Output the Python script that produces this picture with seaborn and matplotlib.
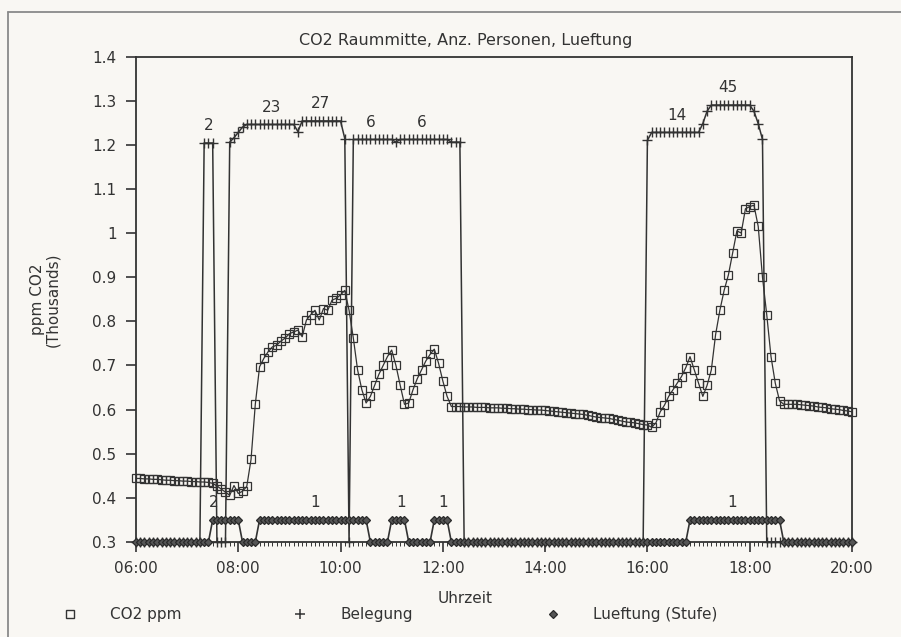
import numpy as np
import pandas as pd
import matplotlib
matplotlib.use("Agg")
import matplotlib.pyplot as plt
from matplotlib.lines import Line2D
from matplotlib.ticker import MultipleLocator, FuncFormatter
import seaborn as sns

# Messwerte alle 5 Minuten, 06:00 bis 20:00
zeit = pd.date_range("2000-01-01 06:00", "2000-01-01 20:00", freq="5min")
zeit_h = zeit.hour + zeit.minute / 60.0

# CO2 Raummitte in Tausend ppm (eine Zeile je Stunde)
co2_ppm = [
    .444, .444, .443, .443, .442, .442, .441, .440, .440, .439, .439, .438,  # 06
    .438, .437, .437, .436, .436, .435, .433, .427, .420, .413, .406, .428,  # 07
    .410, .415, .426, .487, .612, .697, .716, .731, .742, .746, .755, .762,  # 08
    .772, .776, .780, .765, .803, .815, .825, .803, .829, .825, .848, .852,  # 09
    .860, .870, .825, .762, .690, .645, .615, .630, .655, .680, .700, .720,  # 10
    .735, .700, .655, .612, .615, .645, .670, .690, .710, .725, .737, .705,  # 11
    .665, .630, .607, .607, .607, .606, .606, .606, .605, .605, .605, .604,  # 12
    .604, .604, .603, .603, .602, .602, .601, .601, .600, .600, .599, .599,  # 13
    .598, .597, .596, .595, .594, .593, .592, .591, .590, .589, .587, .585,  # 14
    .583, .582, .581, .580, .578, .576, .574, .572, .571, .570, .568, .566,  # 15
    .565, .560, .570, .595, .610, .630, .645, .660, .675, .695, .720, .690,  # 16
    .660, .630, .655, .690, .770, .825, .870, .905, .955, 1.005, 1.000, 1.055,  # 17
    1.060, 1.063, 1.015, .900, .815, .720, .660, .620, .612, .612, .612, .612,  # 18
    .611, .610, .609, .608, .606, .605, .604, .602, .601, .600, .598, .597,  # 19
    .595,  # 20
]

# Belegung: Anzahl Personen
personen = [
    0, 0, 0, 0, 0, 0, 0, 0, 0, 0, 0, 0,
    0, 0, 0, 0, 2, 2, 2, 0, 0, 0, 3, 8,
    14, 20, 23, 23, 23, 23, 23, 23, 23, 23, 23, 23,
    23, 23, 15, 27, 27, 27, 27, 27, 27, 27, 27, 27,
    27, 7, 0, 6, 6, 6, 6, 6, 6, 6, 6, 6,
    6, 3, 6, 6, 6, 6, 6, 6, 6, 6, 6, 6,
    6, 6, 3, 3, 3, 0, 0, 0, 0, 0, 0, 0,
    0, 0, 0, 0, 0, 0, 0, 0, 0, 0, 0, 0,
    0, 0, 0, 0, 0, 0, 0, 0, 0, 0, 0, 0,
    0, 0, 0, 0, 0, 0, 0, 0, 0, 0, 0, 0,
    5, 14, 14, 14, 14, 14, 14, 14, 14, 14, 14, 14,
    14, 24, 38, 45, 45, 45, 45, 45, 45, 45, 45, 45,
    45, 38, 24, 6, 0, 0, 0, 0, 0, 0, 0, 0,
    0, 0, 0, 0, 0, 0, 0, 0, 0, 0, 0, 0,
    0,
]

# Lueftung (Stufe)
stufe = [
    0, 0, 0, 0, 0, 0, 0, 0, 0, 0, 0, 0,
    0, 0, 0, 0, 0, 0, 2, 2, 2, 2, 2, 2,
    2, 0, 0, 0, 0, 1, 1, 1, 1, 1, 1, 1,
    1, 1, 1, 1, 1, 1, 1, 1, 1, 1, 1, 1,
    1, 1, 1, 1, 1, 1, 1, 0, 0, 0, 0, 0,
    1, 1, 1, 1, 0, 0, 0, 0, 0, 0, 1, 1,
    1, 1, 0, 0, 0, 0, 0, 0, 0, 0, 0, 0,
    0, 0, 0, 0, 0, 0, 0, 0, 0, 0, 0, 0,
    0, 0, 0, 0, 0, 0, 0, 0, 0, 0, 0, 0,
    0, 0, 0, 0, 0, 0, 0, 0, 0, 0, 0, 0,
    0, 0, 0, 0, 0, 0, 0, 0, 0, 0, 1, 1,
    1, 1, 1, 1, 1, 1, 1, 1, 1, 1, 1, 1,
    1, 1, 1, 1, 1, 1, 1, 1, 0, 0, 0, 0,
    0, 0, 0, 0, 0, 0, 0, 0, 0, 0, 0, 0,
    0,
]

personen_labels = ["2", "23", "27", "6", "6", "14", "45"]
personen_label_zeit = [7.42, 8.65, 9.60, 10.59, 11.58, 16.57, 17.58]
stufe_labels = ["2", "1", "1", "1", "1"]
stufe_label_zeit = [7.51, 9.50, 11.18, 12.00, 17.65]

# Darstellung wie im Original: Belegung oben ab 1.2, Lueftung unten ab 0.3
persons = np.array(personen)
belegung_y = np.where(persons > 0, 1.2 + 0.002 * persons, 0.3)
lueftung_y = 0.3 + 0.05 * (np.array(stufe) > 0)

df = pd.DataFrame({"zeit": zeit_h, "co2": co2_ppm,
                   "belegung": belegung_y, "lueftung": lueftung_y})

sns.set_theme(style="white")
plt.rcParams["font.family"] = ["DejaVu Sans"]

ink = "#333333"
paper = "#f9f7f3"
fs = 11

fig = plt.figure(figsize=(9.01, 6.37), dpi=100, facecolor=paper)
ax = fig.add_axes([0.1509, 0.1491, 0.7947, 0.7622])
ax.set_facecolor(paper)

sns.lineplot(data=df, x="zeit", y="belegung", ax=ax, color=ink, linewidth=1.1,
             marker="+", markersize=6.5, markeredgecolor=ink, markeredgewidth=1.0,
             clip_on=False, zorder=4)
sns.lineplot(data=df, x="zeit", y="co2", ax=ax, color=ink, linewidth=0.9,
             marker="s", markersize=5.2, markerfacecolor="none",
             markeredgecolor=ink, markeredgewidth=0.9, clip_on=False, zorder=5)
sns.lineplot(data=df, x="zeit", y="lueftung", ax=ax, color=ink, linewidth=1.2,
             marker="D", markersize=4, markerfacecolor="#555555",
             markeredgecolor="#2a2a2a", markeredgewidth=0.9, clip_on=False, zorder=6)

for txt, t in zip(personen_labels, personen_label_zeit):
    i = int(np.argmin(np.abs(df["zeit"] - t)))
    ax.annotate(txt, xy=(t, df["belegung"].iloc[i]), xytext=(0, 7),
                textcoords="offset points", ha="center", va="bottom",
                fontsize=fs, color=ink)
for txt, t in zip(stufe_labels, stufe_label_zeit):
    ax.annotate(txt, xy=(t, 0.35), xytext=(0, 7),
                textcoords="offset points", ha="center", va="bottom",
                fontsize=fs, color=ink)

ax.set_xlim(6, 20)
ax.set_ylim(0.3, 1.4)
ax.xaxis.set_major_locator(MultipleLocator(2))
ax.xaxis.set_minor_locator(MultipleLocator(5 / 60))
ax.xaxis.set_major_formatter(FuncFormatter(lambda v, p: f"{int(round(v)):02d}:00"))
ax.yaxis.set_major_locator(MultipleLocator(0.1))
ax.yaxis.set_major_formatter(FuncFormatter(lambda v, p: f"{v:g}"))
ax.tick_params(axis="both", which="major", direction="out", length=7, width=1.2,
               color=ink, labelcolor=ink, labelsize=fs, pad=7,
               bottom=True, left=True)
ax.tick_params(axis="x", which="minor", direction="out", length=3, width=0.7,
               color=ink, bottom=True)
for s in ax.spines.values():
    s.set_color(ink)
    s.set_linewidth(1.3)
ax.set_xlabel("")
ax.set_ylabel("")

fig.text(0.517, 0.937, "CO2 Raummitte, Anz. Personen, Lueftung",
         ha="center", va="center", fontsize=11.5, color=ink)
fig.text(0.050, 0.53, "ppm CO2\n(Thousands)", rotation=90, ha="center",
         va="center", fontsize=fs, color=ink, linespacing=1.0)
fig.text(0.516, 0.061, "Uhrzeit", ha="center", va="center", fontsize=fs, color=ink)

# Legende unten
fs_px = fs * 100 / 72
eintraege = [
    (Line2D([], [], linestyle="none", marker="s", markersize=6, markerfacecolor="none",
            markeredgecolor=ink, markeredgewidth=1.0), "CO2 ppm", 70),
    (Line2D([], [], linestyle="none", marker="+", markersize=7, markeredgewidth=1.1,
            color=ink), "Belegung", 300),
    (Line2D([], [], linestyle="none", marker="D", markersize=4, markerfacecolor="#555555",
            markeredgecolor="#2a2a2a", markeredgewidth=0.9), "Lueftung (Stufe)", 553),
]
for h, lab, xm in eintraege:
    left = (xm - fs_px) / 901
    leg = fig.legend(handles=[h], labels=[lab], loc="center left",
                     bbox_to_anchor=(left, 1 - 615 / 637), frameon=False,
                     fontsize=fs, handlelength=2, handletextpad=40 / fs_px - 1,
                     borderpad=0, borderaxespad=0)
    for t in leg.get_texts():
        t.set_color(ink)

# Rahmen des Scans (oben und links)
fig.add_artist(Line2D([8 / 901, 1.0], [1 - 12 / 637, 1 - 12 / 637],
                      transform=fig.transFigure, color="#8a8a8a", linewidth=1.3))
fig.add_artist(Line2D([8 / 901, 8 / 901], [0.0, 1 - 12 / 637],
                      transform=fig.transFigure, color="#8a8a8a", linewidth=1.3))

fig.savefig("out.png", dpi=100, facecolor=paper)
